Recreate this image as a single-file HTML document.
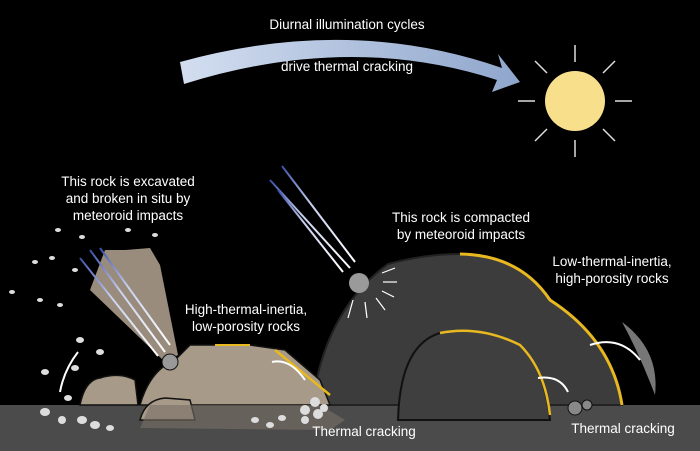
<!DOCTYPE html>
<html><head><meta charset="utf-8"><style>
html,body{margin:0;padding:0;background:#000;}
svg{display:block;}
text{font-family:"Liberation Sans",sans-serif;fill:#fff;font-size:13.5px;text-anchor:middle;}
</style></head><body>
<svg width="700" height="451" viewBox="0 0 700 451" xmlns="http://www.w3.org/2000/svg">
<defs>
<linearGradient id="arr" x1="0" x2="1" y1="0" y2="0"><stop offset="0" stop-color="#d3def0"/><stop offset="1" stop-color="#8fa6cc"/></linearGradient>
<linearGradient id="ray" x1="0" x2="1" y1="0" y2="1"><stop offset="0" stop-color="#3a50a8"/><stop offset="0.4" stop-color="#c8d0f0"/><stop offset="1" stop-color="#ffffff"/></linearGradient>
</defs>
<rect width="700" height="451" fill="#000"/>
<rect x="0" y="405" width="700" height="46" fill="#4b4b4b"/>
<!-- big arrow -->
<path d="M180,62 Q350,15 502,68 L498,54 L520,82 L492,92 L497,80 Q350,32 184,84 Z" fill="url(#arr)"/>
<text x="347" y="29">Diurnal illumination cycles</text>
<text x="347" y="71">drive thermal cracking</text>
<!-- sun -->
<circle cx="575" cy="101" r="30" fill="#f8df8c"/>
<g stroke="#ddd" stroke-width="1.5">
<line x1="575" y1="45" x2="575" y2="62"/><line x1="575" y1="140" x2="575" y2="157"/>
<line x1="518" y1="101" x2="535" y2="101"/><line x1="615" y1="101" x2="632" y2="101"/>
<line x1="535" y1="61" x2="547" y2="73"/><line x1="603" y1="129" x2="615" y2="141"/>
<line x1="615" y1="61" x2="603" y2="73"/><line x1="547" y1="129" x2="535" y2="141"/>
</g>
<!-- big dark rock -->
<path d="M312,405 Q325,310 388,264 Q425,254 460,254 Q520,255 550,300 Q612,340 622,405 Z" fill="#3c3c3c" stroke="#222" stroke-width="2"/>
<path d="M460,254 Q520,255 550,300 Q612,340 622,405" fill="none" stroke="#e8b820" stroke-width="3"/>
<path d="M398,420 Q400,345 440,333 Q480,325 520,345 Q545,370 550,420 Z" fill="#3f3f3f" stroke="#111" stroke-width="2"/>
<path d="M440,333 Q480,325 520,345 Q545,370 550,415" fill="none" stroke="#e8b820" stroke-width="2.5"/>
<circle cx="359" cy="283" r="10" fill="#9a9a9a"/>
<g stroke="url(#ray)" stroke-width="2"><line x1="270" y1="180" x2="350" y2="268"/><line x1="282" y1="166" x2="355" y2="262"/><line x1="278" y1="190" x2="343" y2="272"/></g>
<g stroke="#fff" stroke-width="1.2"><line x1="382" y1="273" x2="395" y2="268"/><line x1="383" y1="282" x2="397" y2="282"/><line x1="382" y1="291" x2="394" y2="297"/><line x1="376" y1="298" x2="385" y2="310"/><line x1="365" y1="302" x2="367" y2="318"/><line x1="353" y1="300" x2="348" y2="318"/></g>
<path d="M622,322 Q660,350 655,395 Q640,355 622,322Z" fill="#777"/>
<path d="M590,345 Q620,335 640,360" fill="none" stroke="#fff" stroke-width="2"/>
<path d="M538,378 Q560,375 568,392" fill="none" stroke="#fff" stroke-width="2"/>
<circle cx="575" cy="408" r="7" fill="#888" stroke="#111"/><circle cx="587" cy="405" r="5" fill="#888" stroke="#111"/>
<!-- left tan rocks -->
<path d="M140,405 Q150,370 175,360 L190,345 L250,345 L285,350 L320,380 L330,405 Z" fill="#a89a88" stroke="#111" stroke-width="1.5"/>
<path d="M80,405 Q85,380 100,378 Q120,372 135,380 L138,405Z" fill="#a89a88" stroke="#111" stroke-width="1.5"/>
<path d="M140,420 Q145,400 165,398 L190,400 L195,420Z" fill="#a89a88" stroke="#111" stroke-width="1.5"/>
<path d="M150,405 L320,405 L345,420 L330,430 L140,428Z" fill="#7a7068" opacity=".6"/>
<path d="M215,345 L250,345" stroke="#e8b820" stroke-width="2"/>
<path d="M275,350 L330,395" stroke="#e8b820" stroke-width="2.5"/>
<path d="M272,362 Q290,358 305,380" fill="none" stroke="#fff" stroke-width="2"/>
<path d="M165,362 L90,290 L105,250 L125,250 L150,248 L160,265 L178,355Z" fill="#9a8c7c"/>
<circle cx="170" cy="362" r="8" fill="#999" stroke="#111"/>
<g stroke="url(#ray)" stroke-width="2"><line x1="90" y1="250" x2="165" y2="352"/><line x1="80" y1="258" x2="158" y2="356"/><line x1="100" y1="248" x2="170" y2="345"/></g>
<g fill="#ddd">
<ellipse cx="58" cy="230" rx="3" ry="2"/><ellipse cx="82" cy="237" rx="3" ry="2"/><ellipse cx="128" cy="230" rx="3" ry="2"/><ellipse cx="155" cy="235" rx="3" ry="2"/>
<ellipse cx="35" cy="262" rx="3" ry="2"/><ellipse cx="52" cy="258" rx="3" ry="2"/><ellipse cx="75" cy="270" rx="3" ry="2"/><ellipse cx="12" cy="292" rx="3" ry="2"/>
<ellipse cx="40" cy="300" rx="3" ry="2"/><ellipse cx="60" cy="305" rx="3" ry="2"/><ellipse cx="80" cy="340" rx="4" ry="3"/><ellipse cx="100" cy="352" rx="4" ry="3"/>
<ellipse cx="75" cy="368" rx="4" ry="3"/><ellipse cx="45" cy="372" rx="4" ry="3"/><ellipse cx="68" cy="398" rx="4" ry="3"/>
<ellipse cx="45" cy="412" rx="5" ry="4"/><ellipse cx="62" cy="420" rx="4" ry="4"/><ellipse cx="82" cy="420" rx="5" ry="4"/><ellipse cx="95" cy="425" rx="5" ry="4"/><ellipse cx="110" cy="428" rx="4" ry="3"/>
<ellipse cx="255" cy="420" rx="4" ry="3"/><ellipse cx="270" cy="425" rx="4" ry="3"/><ellipse cx="282" cy="418" rx="4" ry="3"/>
<circle cx="305" cy="410" r="5"/><circle cx="315" cy="402" r="5"/><circle cx="318" cy="414" r="5"/><circle cx="305" cy="420" r="4"/><circle cx="324" cy="408" r="4"/>
</g>
<path d="M78,352 Q64,370 60,392" fill="none" stroke="#fff" stroke-width="2"/>
<text x="128" y="186">This rock is excavated</text>
<text x="128" y="203">and broken in situ by</text>
<text x="128" y="220">meteoroid impacts</text>
<text x="461" y="222">This rock is compacted</text>
<text x="461" y="239">by meteoroid impacts</text>
<text x="612" y="266">Low-thermal-inertia,</text>
<text x="612" y="283">high-porosity rocks</text>
<text x="246" y="314">High-thermal-inertia,</text>
<text x="246" y="331">low-porosity rocks</text>
<text x="364" y="436">Thermal cracking</text>
<text x="623" y="433">Thermal cracking</text>
</svg>
</body></html>
